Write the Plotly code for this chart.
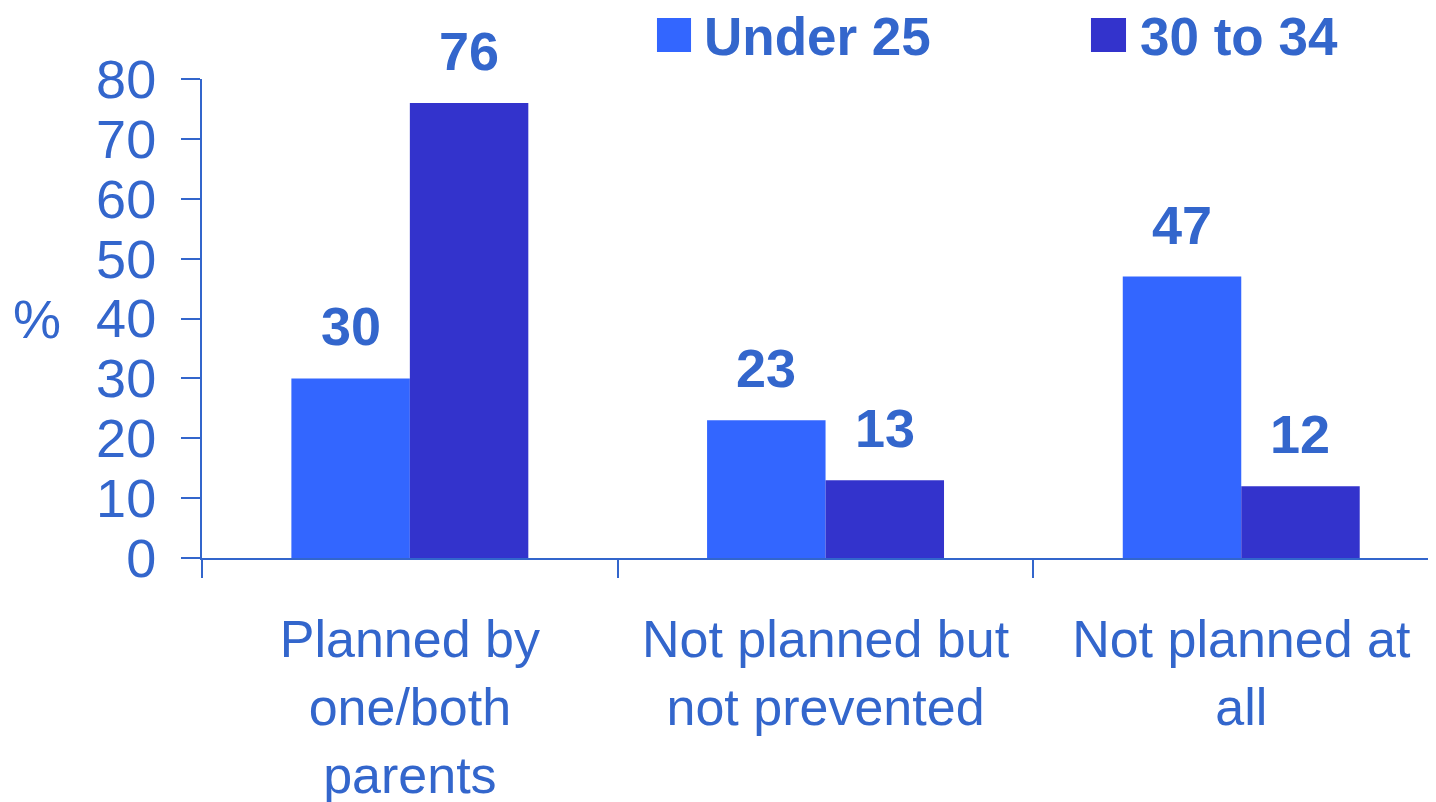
import plotly.graph_objects as go

categories = ["Planned by<br>one/both<br>parents", "Not planned but<br>not prevented", "Not planned at<br>all"]
series_names = ["Under 25", "30 to 34"]
under_25 = [30, 23, 47]
age_30_34 = [76, 13, 12]
y_ticks = [0, 10, 20, 30, 40, 50, 60, 70, 80]

COLORS = ["#3366FF", "#3333CC"]
TEXT = "#3366CC"
FONT = "Arial, Liberation Sans, sans-serif"
FS = 54
BARGAP = 0.43

fig = go.Figure()
for name, vals, col in zip(series_names, [under_25, age_30_34], COLORS):
    fig.add_trace(go.Bar(x=categories, y=vals, name=name, marker={"color": col, "line": {"width": 0}}))

# value labels above bars
w = (1 - BARGAP) / 2
for k, vals in enumerate([under_25, age_30_34]):
    off = -w / 2 if k == 0 else w / 2
    for i, v in enumerate(vals):
        fig.add_annotation(x=i + off, y=v, xref="x", yref="y", text=f"<b>{v}</b>",
                           showarrow=False, yanchor="bottom", yshift=20,
                           font={"size": FS, "color": TEXT, "family": FONT})

# legend drawn by hand (big square swatches)
legend_pos = [(0.3687, 0.3963, 0.4052), (0.7204, 0.7488, 0.7584)]
for (x0, x1, tx), name, col in zip(legend_pos, series_names, COLORS):
    fig.add_shape(type="rect", xref="paper", yref="paper", x0=x0, x1=x1, y0=1.0564, y1=1.1273,
                  fillcolor=col, line={"width": 0})
    fig.add_annotation(x=tx, y=1.0877, xref="paper", yref="paper", text=f"<b>{name}</b>",
                       showarrow=False, xanchor="left", yanchor="middle",
                       font={"size": 53, "color": TEXT, "family": FONT})

# "%" axis label
fig.add_annotation(x=-0.1337, y=40, xref="paper", yref="y", text="%", showarrow=False,
                   xanchor="center", yanchor="middle",
                   font={"size": FS, "color": TEXT, "family": FONT})

fig.update_layout(
    width=1436, height=802,
    margin={"l": 194, "r": 8, "t": 71, "b": 252},
    paper_bgcolor="white", plot_bgcolor="white",
    barmode="group", bargap=BARGAP, bargroupgap=0,
    showlegend=False,
    font={"family": FONT, "color": TEXT, "size": FS},
    xaxis={"type": "category", "range": [-0.5, 2.4685], "showline": True, "linecolor": TEXT,
           "linewidth": 2, "ticks": "outside", "tickson": "boundaries", "ticklen": 18,
           "tickwidth": 2, "tickcolor": TEXT, "showgrid": False, "ticklabelstandoff": 35,
           "automargin": False, "tickfont": {"size": 52, "color": TEXT}},
    yaxis={"range": [0, 80], "tickvals": y_ticks, "showline": True, "linecolor": TEXT,
           "linewidth": 2, "ticks": "outside", "ticklen": 19, "tickwidth": 2, "tickcolor": TEXT,
           "showgrid": False, "zeroline": False, "ticklabelstandoff": 14,
           "automargin": False, "tickfont": {"size": FS, "color": TEXT}},
)

fig.write_html("out.html")
